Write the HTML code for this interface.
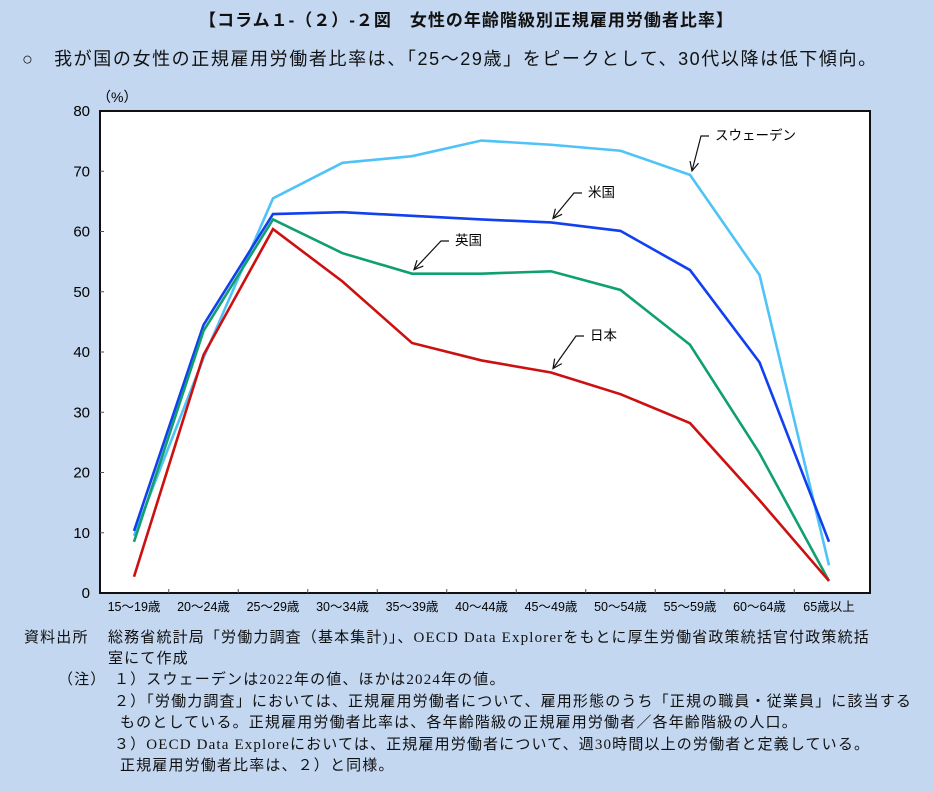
<!DOCTYPE html>
<html><head><meta charset="utf-8"><style>
body{margin:0;width:933px;height:791px;background:#c3d7f0;font-family:"Liberation Sans","Noto Sans CJK JP",sans-serif;position:relative;overflow:hidden;color:#111}
.t{position:absolute;white-space:nowrap}
.n{font-family:"Liberation Serif","Noto Sans CJK JP",serif;font-size:15px;letter-spacing:1.15px}
</style></head><body>
<div class="t" style="left:0;width:933px;text-align:center;top:6px;font-size:17px;font-weight:bold;letter-spacing:1px">【コラム１-（２）-２図　女性の年齢階級別正規雇用労働者比率】</div>
<div class="t" style="left:22px;top:45px;font-size:18px;letter-spacing:1.6px">○　我が国の女性の正規雇用労働者比率は、「25～29歳」をピークとして、30代以降は低下傾向。</div>
<svg id="chart" width="933" height="630" style="position:absolute;left:0;top:0" font-family="Liberation Sans, Noto Sans CJK JP, sans-serif"></svg>
<div class="t n" style="left:24px;top:626px">資料出所</div>
<div class="t n" style="left:108px;top:626px">総務省統計局「労働力調査（基本集計)」、OECD Data Explorerをもとに厚生労働省政策統括官付政策統括</div>
<div class="t n" style="left:108px;top:647px">室にて作成</div>
<div class="t n" style="left:58px;top:668px">（注）</div>
<div class="t n" style="left:114px;top:668px">１）スウェーデンは2022年の値、ほかは2024年の値。</div>
<div class="t n" style="left:114px;top:690px">２）「労働力調査」においては、正規雇用労働者について、雇用形態のうち「正規の職員・従業員」に該当する</div>
<div class="t n" style="left:120px;top:711px">ものとしている。正規雇用労働者比率は、各年齢階級の正規雇用労働者／各年齢階級の人口。</div>
<div class="t n" style="left:114px;top:733px">３）OECD Data Exploreにおいては、正規雇用労働者について、週30時間以上の労働者と定義している。</div>
<div class="t n" style="left:120px;top:754px">正規雇用労働者比率は、２）と同様。</div>
<script>
const categories=["15～19歳","20～24歳","25～29歳","30～34歳","35～39歳","40～44歳","45～49歳","50～54歳","55～59歳","60～64歳","65歳以上"];
const yTicks=[0,10,20,30,40,50,60,70,80];
const sweden=[9.5,39,65.5,71.4,72.5,75.1,74.4,73.4,69.4,52.8,4.6];
const usa=[10.3,44.5,62.9,63.2,62.6,62.0,61.5,60.1,53.6,38.3,8.5];
const uk=[8.5,43.5,62.0,56.4,53.0,53.0,53.4,50.3,41.2,23.2,2.0];
const japan=[2.7,39.5,60.4,51.7,41.5,38.6,36.6,33.0,28.2,15.4,2.0];
const NS="http://www.w3.org/2000/svg";
const svg=document.getElementById('chart');
const L=100,R=870,T=111,B=593,x0=134,dx=69.5;
const x=i=>x0+i*dx, y=v=>B-(v/80)*(B-T);
function mk(tag,at,txt){const e=document.createElementNS(NS,tag);for(const k in at)e.setAttribute(k,at[k]);if(txt!=null)e.textContent=txt;svg.appendChild(e);return e;}
let e=mk('rect',{x:L,y:T,width:R-L,height:B-T,fill:'#fff',stroke:'#111','stroke-width':2});

yTicks.forEach(v=>{
 let t=mk('text',{x:L-10,y:y(v)+5,'text-anchor':'end','font-size':15},v);
 
 if(v>0&&v<80){let l=mk('line',{x1:L,x2:L+4,y1:y(v),y2:y(v),stroke:'#555'});}
});
e=mk('text',{x:97,y:102,'font-size':14},'（%）');
categories.forEach((c,i)=>{
 let t=mk('text',{x:x(i),y:611,'text-anchor':'middle','font-size':12.5},c);
 
 if(i<categories.length-1){let l=mk('line',{x1:x(i)+dx/2,x2:x(i)+dx/2,y1:B,y2:B-4,stroke:'#555'});}
});
const series=[[sweden,'#4fc3f7','sweden-line'],[usa,'#1040f0','usa-line'],[uk,'#10a070','uk-line'],[japan,'#cc1010','japan-line']];
series.forEach(([d,c,n])=>{
 let p=mk('polyline',{points:d.map((v,i)=>x(i)+','+y(v)).join(' '),fill:'none',stroke:c,'stroke-width':2.6,'stroke-linejoin':'miter'});
 
});
const labels=[[8,sweden,'スウェーデン',715,140],[6,usa,'米国',588,197],[4,uk,'英国',455,245],[6,japan,'日本',590,340]];
labels.forEach(([i,d,txt,lx,ly])=>{
 const px=x(i)+2,py=y(d[i])-4;
 let g=mk('polyline',{points:`${lx-6},${ly-4} ${lx-14},${ly-4} ${px},${py}`,fill:'none',stroke:'#111','stroke-width':1.2});
 
 const a=Math.atan2(py-(ly-4),px-(lx-14));
 const h=10;
 let ah=mk('polyline',{points:`${px-h*Math.cos(a-0.45)},${py-h*Math.sin(a-0.45)} ${px},${py} ${px-h*Math.cos(a+0.45)},${py-h*Math.sin(a+0.45)}`,fill:'none',stroke:'#111','stroke-width':1.2});
 
 let t=mk('text',{x:lx,y:ly,'font-size':13.5},txt);
 
});
</script>
</body></html>
